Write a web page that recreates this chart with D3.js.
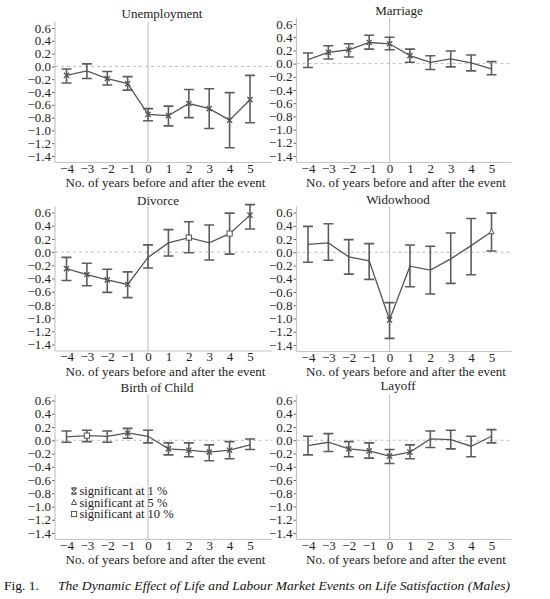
<!DOCTYPE html>
<html>
<head>
<meta charset="utf-8">
<script src="https://cdn.jsdelivr.net/npm/d3@7"></script>
<style>
  body { margin: 0; background: #fff; }
  svg { display: block; font-family: "Liberation Serif", "DejaVu Serif", serif; }
</style>
</head>
<body>
<svg id="chart" width="550" height="599"></svg>
<script>
const years = [-4, -3, -2, -1, 0, 1, 2, 3, 4, 5];
const yTicks = [0.6, 0.4, 0.2, 0.0, -0.2, -0.4, -0.6, -0.8, -1.0, -1.2, -1.4];

// significance codes: "1" = 1 %, "5" = 5 %, "10" = 10 %, "" = none
const unempEst = [-0.14, -0.07, -0.19, -0.27, -0.75, -0.77, -0.58, -0.66, -0.84, -0.52];
const unempLo  = [-0.26, -0.19, -0.29, -0.37, -0.85, -0.93, -0.80, -0.97, -1.27, -0.88];
const unempHi  = [-0.04,  0.04, -0.08, -0.16, -0.66, -0.62, -0.36, -0.35, -0.41, -0.14];
const unempSig = ["1", "", "1", "1", "1", "1", "1", "1", "1", "1"];

const marrEst = [0.06, 0.17, 0.21, 0.32, 0.30, 0.12, 0.02, 0.07, 0.01, -0.08];
const marrLo  = [-0.06, 0.07, 0.10, 0.22, 0.21, 0.02, -0.09, -0.05, -0.11, -0.17];
const marrHi  = [0.16, 0.27, 0.30, 0.43, 0.40, 0.22, 0.12, 0.19, 0.13, 0.03];
const marrSig = ["", "1", "1", "1", "1", "1", "", "", "", ""];

const divEst = [-0.25, -0.34, -0.42, -0.49, -0.08, 0.14, 0.22, 0.14, 0.28, 0.56];
const divLo  = [-0.43, -0.51, -0.61, -0.69, -0.24, -0.06, -0.01, -0.12, -0.03, 0.35];
const divHi  = [-0.08, -0.17, -0.26, -0.30, 0.11, 0.34, 0.46, 0.41, 0.59, 0.72];
const divSig = ["1", "1", "1", "1", "", "", "10", "", "10", "1"];

const widEst = [0.12, 0.14, -0.07, -0.13, -1.02, -0.21, -0.27, -0.10, 0.10, 0.31];
const widLo  = [-0.15, -0.12, -0.33, -0.41, -1.30, -0.52, -0.63, -0.47, -0.34, 0.02];
const widHi  = [0.39, 0.43, 0.19, 0.13, -0.76, 0.11, 0.09, 0.29, 0.51, 0.59];
const widSig = ["", "", "", "", "1", "", "", "", "", "5"];

const birthEst = [0.05, 0.07, 0.06, 0.11, 0.06, -0.13, -0.15, -0.18, -0.15, -0.07];
const birthLo  = [-0.03, -0.02, -0.03, 0.03, -0.04, -0.22, -0.25, -0.31, -0.28, -0.14];
const birthHi  = [0.14, 0.15, 0.14, 0.18, 0.15, -0.04, -0.04, -0.07, -0.02, 0.02];
const birthSig = ["", "10", "", "1", "", "1", "1", "1", "1", ""];

const layEst = [-0.08, -0.03, -0.13, -0.16, -0.24, -0.18, 0.02, 0.01, -0.09, 0.06];
const layLo  = [-0.22, -0.17, -0.25, -0.27, -0.35, -0.28, -0.11, -0.13, -0.25, -0.04];
const layHi  = [0.06, 0.10, -0.02, -0.04, -0.14, -0.07, 0.14, 0.15, 0.06, 0.16];
const laySig = ["", "", "1", "1", "1", "1", "", "", "", ""];

const legendLabels = ["significant at 1 %", "significant at 5 %", "significant at 10 %"];
const legendSig = ["1", "5", "10"];

const xLabel = "No. of years before and after the event";
const captionFig = "Fig. 1.";
const captionTitle = "The Dynamic Effect of Life and Labour Market Events on Life Satisfaction (Males)";

const panels = [
  { title: "Unemployment", est: unempEst, lo: unempLo, hi: unempHi, sig: unempSig,
    left: 55, right: 272, yTop: 28, yBot: 156, titleY: 18, titleX: 162 },
  { title: "Marriage", est: marrEst, lo: marrLo, hi: marrHi, sig: marrSig,
    left: 296.5, right: 511.5, yTop: 24, yBot: 156, titleY: 15, titleX: 399 },
  { title: "Divorce", est: divEst, lo: divLo, hi: divHi, sig: divSig,
    left: 55, right: 272, yTop: 212.5, yBot: 344.5, titleY: 205, titleX: 158 },
  { title: "Widowhood", est: widEst, lo: widLo, hi: widHi, sig: widSig,
    left: 296.5, right: 511.5, yTop: 212.5, yBot: 345, titleY: 204, titleX: 398 },
  { title: "Birth of Child", est: birthEst, lo: birthLo, hi: birthHi, sig: birthSig,
    left: 55, right: 272, yTop: 400.5, yBot: 533, titleY: 391.5, titleX: 157 },
  { title: "Layoff", est: layEst, lo: layLo, hi: layHi, sig: laySig,
    left: 296.5, right: 511.5, yTop: 400.5, yBot: 533, titleY: 390, titleX: 398 }
];

const INK = "#555";
const AXIS = "#c4c4c4";
const svg = d3.select("#chart");

const drawMarker = (g, kind, cx, cy, caps) => {
  if (kind === "1") {
    var d = `M${cx - 2.6},${cy - 2.6}L${cx + 2.6},${cy + 2.6}M${cx - 2.6},${cy + 2.6}L${cx + 2.6},${cy - 2.6}`;
    if (caps) d += `M${cx - 2.6},${cy - 3}H${cx + 2.6}M${cx - 2.6},${cy + 3}H${cx + 2.6}`;
    g.append("path")
      .attr("d", d)
      .attr("stroke", INK).attr("stroke-width", 1.3).attr("fill", "none");
  } else if (kind === "5") {
    g.append("path")
      .attr("d", `M${cx},${cy - 2.8}L${cx + 2.6},${cy + 2}L${cx - 2.6},${cy + 2}Z`)
      .attr("stroke", INK).attr("stroke-width", 1).attr("fill", "#fff");
  } else if (kind === "10") {
    g.append("rect")
      .attr("x", cx - 2.6).attr("y", cy - 2.6).attr("width", 5.2).attr("height", 5.2)
      .attr("stroke", INK).attr("stroke-width", 1).attr("fill", "#fff");
  }
};

panels.forEach((p) => {
  const g = svg.append("g");
  const x = d3.scaleLinear().domain([-4, 5]).range([p.left + 11.5, p.left + 195]);
  const y = d3.scaleLinear().domain([-1.4, 0.6]).range([p.yBot, p.yTop]);
  const axisTop = p.yTop - 6;
  const axisBottom = p.yBot + 6.5;

  // zero reference lines
  g.append("line")
    .attr("x1", p.left).attr("x2", p.right)
    .attr("y1", y(0)).attr("y2", y(0))
    .attr("stroke", "#bdbdbd").attr("stroke-dasharray", "3,3");
  g.append("line")
    .attr("x1", x(0)).attr("x2", x(0))
    .attr("y1", axisTop).attr("y2", axisBottom)
    .attr("stroke", AXIS).attr("stroke-width", 1.2);

  // y axis
  const yAxis = d3.axisLeft(y).tickValues(yTicks).tickSize(3).tickPadding(1)
    .tickFormat(d3.format(".1f"));
  const ya = g.append("g").attr("transform", `translate(${p.left},0)`).call(yAxis);
  ya.attr("font-family", null);
  ya.select(".domain").remove();
  ya.selectAll(".tick line").attr("stroke", "#666");
  ya.selectAll(".tick text").attr("font-size", 13).attr("fill", "#222");
  g.append("line")
    .attr("x1", p.left).attr("x2", p.left)
    .attr("y1", axisTop).attr("y2", axisBottom)
    .attr("stroke", AXIS).attr("stroke-width", 1.2);

  // x axis
  g.append("line")
    .attr("x1", p.left).attr("x2", p.right)
    .attr("y1", axisBottom).attr("y2", axisBottom)
    .attr("stroke", AXIS).attr("stroke-width", 1.2);
  const xAxis = d3.axisBottom(x).tickValues(years).tickSize(0).tickPadding(0)
    .tickFormat(d3.format("d"));
  const xa = g.append("g").attr("transform", `translate(0,${axisBottom})`).call(xAxis);
  xa.attr("font-family", null);
  xa.select(".domain").remove();
  xa.selectAll(".tick text").attr("font-size", 13).attr("fill", "#222")
    .attr("dy", null).attr("y", 10);

  g.append("text")
    .attr("x", (p.left + p.right) / 2 + 2).attr("y", axisBottom + 24.5)
    .attr("text-anchor", "middle").attr("font-size", 13).attr("fill", "#222")
    .text(xLabel);

  g.append("text")
    .attr("x", p.titleX).attr("y", p.titleY)
    .attr("text-anchor", "middle").attr("font-size", 13).attr("fill", "#222")
    .text(p.title);

  // error bars
  const rows = years.map((yr, i) => ({ yr, est: p.est[i], lo: p.lo[i], hi: p.hi[i], sig: p.sig[i] }));
  rows.forEach((d) => {
    const cx = x(d.yr);
    g.append("path")
      .attr("d", `M${cx - 5},${y(d.hi)}H${cx + 5}M${cx},${y(d.hi)}V${y(d.lo)}M${cx - 5},${y(d.lo)}H${cx + 5}`)
      .attr("stroke", "#5c5c5c").attr("stroke-width", 1.6).attr("fill", "none");
  });

  // estimate line
  const line = d3.line().x((d) => x(d.yr)).y((d) => y(d.est));
  g.append("path").datum(rows)
    .attr("d", line)
    .attr("stroke", INK).attr("stroke-width", 1.3).attr("fill", "none");

  rows.forEach((d) => drawMarker(g, d.sig, x(d.yr), y(d.est), false));
});

// legend inside Birth of Child panel
const lg = svg.append("g");
legendLabels.forEach((lab, i) => {
  const by = 495 + i * 11.5;
  drawMarker(lg, legendSig[i], 74, by - 4, true);
  lg.append("text")
    .attr("x", 79.5).attr("y", by)
    .attr("font-size", 12.5).attr("fill", "#222")
    .text(lab);
});

// caption
svg.append("text")
  .attr("x", 4).attr("y", 590)
  .attr("font-size", 13.5).attr("fill", "#111")
  .text(captionFig);
svg.append("text")
  .attr("x", 58).attr("y", 590)
  .attr("font-size", 13.5).attr("font-style", "italic").attr("fill", "#111")
  .attr("textLength", 452).attr("lengthAdjust", "spacing")
  .text(captionTitle);
</script>
</body>
</html>
